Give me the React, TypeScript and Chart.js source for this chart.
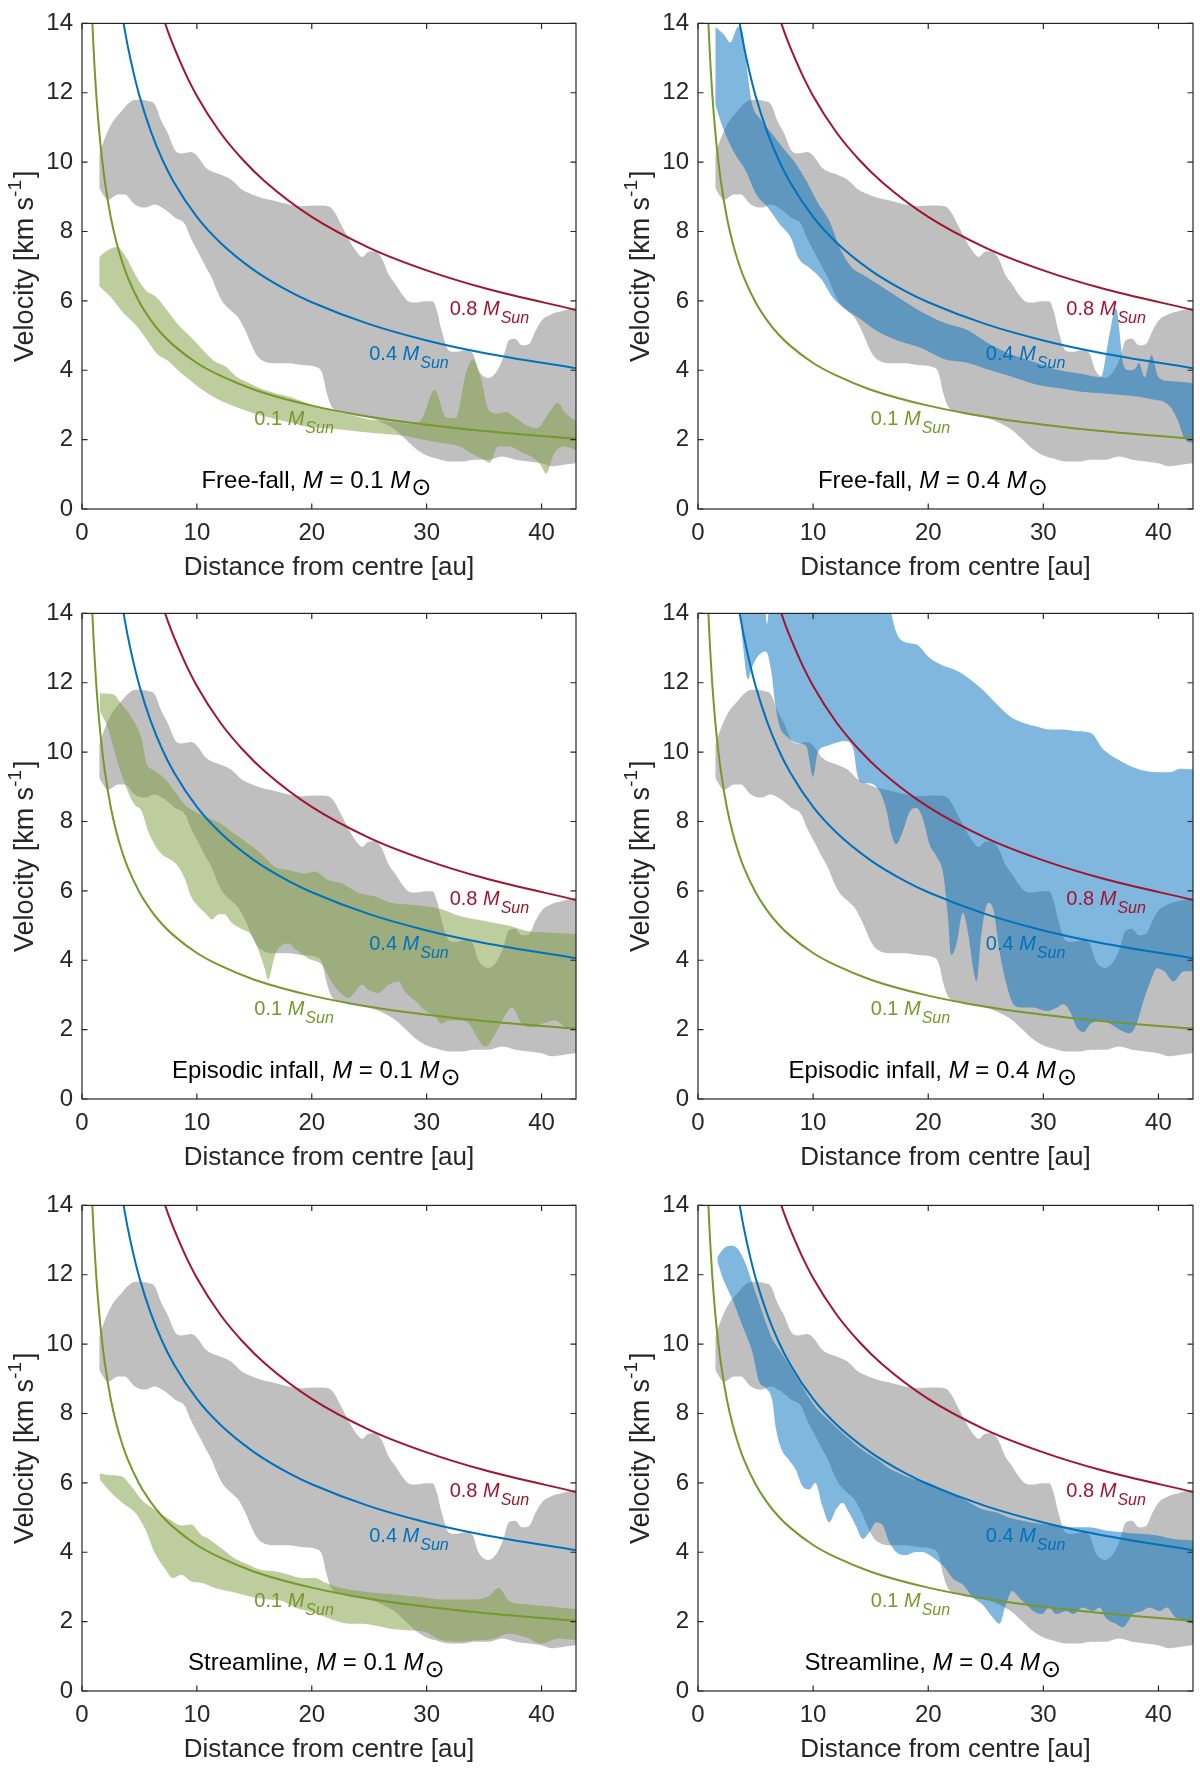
import { useEffect, useRef } from "react";
import { Chart, registerables } from "chart.js";

Chart.register(...registerables);

type Pt = [number, number];

// free-fall curves (r in au, v in km/s)
const curveR08 = [7.2, 7.6, 8, 9, 10, 12, 14, 16, 20, 25, 30, 35, 43];
const curveV08 = [14.04, 13.66, 13.32, 12.56, 11.91, 10.87, 10.07, 9.42, 8.42, 7.53, 6.88, 6.37, 5.74];
const curveR04 = [3.6, 3.8, 4, 4.5, 5, 6, 7, 8, 10, 12, 15, 18, 20, 25, 30, 35, 43];
const curveV04 = [14.04, 13.67, 13.32, 12.56, 11.91, 10.88, 10.07, 9.42, 8.42, 7.69, 6.88, 6.28, 5.96, 5.33, 4.86, 4.5, 4.06];
const curveR01 = [0.9, 0.95, 1, 1.1, 1.25, 1.5, 1.75, 2, 2.5, 3, 3.5, 4, 5, 6, 7, 8, 10, 12, 15, 20, 25, 30, 35, 43];
const curveV01 = [14.04, 13.67, 13.32, 12.7, 11.91, 10.88, 10.07, 9.42, 8.42, 7.69, 7.12, 6.66, 5.96, 5.44, 5.03, 4.71, 4.21, 3.85, 3.44, 2.98, 2.66, 2.43, 2.25, 2.03];

// observed range (same in every panel)
const grayUpper: Pt[] = [
  [1.5, 10.2], [1.7, 10.43], [2.56, 11.1], [3.43, 11.47], [4.3, 11.76], [4.9, 11.8], [5.76, 11.76], [6.34, 11.66],
  [6.9, 11.19], [7.5, 10.81], [8.1, 10.34], [8.66, 10.25], [9.5, 10.29], [10.1, 10.15], [10.7, 9.87], [11.3, 9.73],
  [12.15, 9.63], [13, 9.49], [13.9, 9.21], [14.8, 9.07], [15.6, 8.97], [16.8, 8.88], [18, 8.78], [19.1, 8.73],
  [20.3, 8.75], [21.45, 8.73], [22, 8.55], [22.6, 8.17], [23.2, 7.79], [23.8, 7.46], [24.4, 7.27], [24.9, 7.41],
  [25.5, 7.43], [26.1, 7.22], [26.7, 6.75], [27.3, 6.47], [27.85, 6.19], [28.4, 5.99], [29, 5.95], [29.9, 5.99],
  [30.5, 5.99], [30.9, 5.71], [31.3, 5.15], [31.9, 4.58], [32.5, 4.53], [33.4, 4.58], [34, 4.49], [34.5, 4.01],
  [35.4, 3.78], [36, 3.92], [36.6, 4.3], [37.15, 4.86], [37.7, 4.91], [38.3, 4.72], [38.9, 4.75], [39.5, 5.15],
  [40, 5.43], [40.9, 5.62], [41.8, 5.71], [43, 5.81],
];
const grayLower: Pt[] = [
  [1.5, 9.25], [2.27, 8.92], [3.14, 9.07], [3.7, 9.07], [4.6, 8.78], [5.5, 8.69], [6.3, 8.78], [7.2, 8.64],
  [8.1, 8.4], [8.95, 8.22], [9.5, 7.79], [10.1, 7.41], [10.7, 7.03], [11.3, 6.66], [11.9, 6.18], [12.4, 5.9],
  [13, 5.71], [13.6, 5.52], [14.2, 5.15], [15.1, 4.49], [15.6, 4.3], [16.8, 4.2], [18, 4.2], [19.1, 4.15],
  [20.3, 4.1], [20.9, 3.92], [21.3, 3.35], [21.7, 2.97], [22.6, 2.79], [23.8, 2.69], [24.9, 2.64], [26.1, 2.5],
  [27.3, 2.27], [28.1, 2.03], [29, 1.75], [29.9, 1.56], [30.8, 1.46], [31.9, 1.37], [33.1, 1.37], [34.2, 1.42],
  [35.4, 1.42], [36.6, 1.51], [37.7, 1.42], [38.9, 1.37], [40, 1.32], [40.9, 1.23], [41.8, 1.27], [43, 1.32],
];

// model ranges, one per panel
const ff01Upper: Pt[] = [
  [1.5, 7.26], [2.2, 7.45], [3.0, 7.55], [3.84, 7.26], [4.5, 6.84], [5.5, 6.32], [6.5, 6.1], [7.5, 5.69],
  [8.5, 5.27], [9.5, 4.95], [10.5, 4.59], [11.5, 4.27], [12.5, 4.11], [13.5, 3.8], [14.5, 3.64], [15.5, 3.48],
  [16.9, 3.33], [18.2, 3.22], [19.5, 3.06], [20.9, 2.91], [22.2, 2.8], [23.5, 2.7], [24.9, 2.59], [26.2, 2.54],
  [27.5, 2.49], [28.9, 2.45], [29.6, 2.6], [30.7, 3.43], [31.7, 2.64], [32.55, 2.62], [33.4, 3.9], [34.05, 4.32],
  [34.7, 3.8], [35.4, 2.85], [36.2, 2.75], [36.9, 2.8], [37.7, 2.64], [38.6, 2.43], [39.6, 2.33], [40.6, 2.75],
  [41.4, 3.06], [42.1, 2.75], [43, 2.54],
];
const ff01Lower: Pt[] = [
  [1.5, 6.42], [2.5, 6.11], [3.5, 5.69], [4.5, 5.37], [5.5, 4.95], [6.5, 4.48], [7.5, 4.27], [8.5, 3.96],
  [9.5, 3.69], [10.5, 3.43], [11.5, 3.22], [12.85, 3.01], [14.2, 2.85], [15.5, 2.7], [16.9, 2.59], [18.2, 2.49],
  [19.5, 2.38], [21.2, 2.33], [22.9, 2.28], [24.5, 2.22], [26.2, 2.17], [27.9, 2.12], [29.5, 2.01], [31.2, 1.91],
  [32.9, 1.8], [33.9, 1.6], [34.9, 1.44], [35.5, 1.33], [36.2, 1.8], [37.2, 1.8], [38.2, 1.65], [39.2, 1.49],
  [39.9, 1.28], [40.4, 1.02], [41.1, 1.6], [41.9, 1.8], [43, 1.7],
];
const ff04Upper: Pt[] = [
  [1.5, 13.9], [2.3, 13.66], [2.8, 13.45], [3.5, 13.9], [3.9, 13.7], [4.4, 12.3], [4.7, 11.67], [5.4, 11.25],
  [6.4, 10.83], [7.4, 10.4], [8.4, 10.0], [9.4, 9.47], [10.4, 8.83], [11.4, 8.31], [12.4, 7.47], [13.4, 6.95],
  [14.4, 6.74], [15.4, 6.53], [17.4, 6.1], [19.4, 5.69], [21.4, 5.37], [23.4, 5.16], [25.4, 4.74], [27.4, 4.43],
  [29.4, 4.22], [31.4, 4.0], [33.3, 3.9], [35, 3.8], [35.7, 4.95], [36.3, 5.79], [37, 4.11], [37.5, 4.0],
  [38, 4.05], [38.3, 4.22], [38.8, 3.8], [39.4, 4.43], [40, 3.8], [41, 3.69], [42.7, 3.64], [43, 3.62],
];
const ff04Lower: Pt[] = [
  [1.5, 11.67], [2.1, 11.04], [3.1, 10.3], [4.1, 9.78], [5.1, 9.05], [6.1, 8.68], [7.1, 8.21], [8.1, 7.8],
  [8.7, 7.25], [9.7, 6.95], [10.7, 6.63], [11.7, 6.1], [12.7, 5.79], [14.1, 5.48], [15.4, 5.16], [17.4, 4.85],
  [19.4, 4.64], [21.4, 4.32], [23.4, 4.22], [25.4, 4.0], [27.4, 3.8], [29.4, 3.59], [31.4, 3.48], [33.3, 3.38],
  [35.3, 3.33], [37.3, 3.27], [39.3, 3.17], [41, 2.96], [41.7, 2.54], [42.3, 2.01], [43, 1.9],
];
const ep01Upper: Pt[] = [
  [1.54, 11.69], [2.7, 11.67], [3.4, 11.4], [4.45, 10.93], [5.2, 10.37], [5.6, 9.7], [6.3, 9.47], [7.2, 9.24],
  [8.1, 8.86], [8.95, 8.48], [9.8, 8.29], [11, 8.1], [12.15, 7.92], [13.3, 7.63], [14.5, 7.35], [15.6, 7.07],
  [16.8, 6.69], [18, 6.6], [19.4, 6.5], [20.3, 6.55], [21.45, 6.31], [22.6, 6.22], [24.1, 5.94], [25.5, 5.84],
  [27, 5.65], [28.4, 5.61], [29.9, 5.56], [31.3, 5.47], [32.8, 5.28], [34.2, 5.18], [35.7, 5.09], [37.15, 5.0],
  [38.6, 4.85], [40, 4.81], [41.5, 4.78], [43, 4.76],
];
const ep01Lower: Pt[] = [
  [1.54, 11.2], [2.3, 10.65], [3.1, 9.7], [4, 8.86], [4.6, 8.48], [5.2, 8.29], [5.75, 7.73], [6.3, 7.35],
  [6.9, 7.07], [7.8, 6.88], [8.4, 6.69], [9, 6.31], [9.5, 5.84], [10.1, 5.56], [10.7, 5.37], [11.3, 5.18],
  [11.9, 5.33], [12.4, 5.33], [13, 5.09], [13.9, 4.9], [14.8, 4.71], [15.3, 4.34], [15.9, 3.77], [16.2, 3.44],
  [16.8, 4.15], [17.4, 4.43], [18, 4.48], [18.5, 4.34], [19.7, 4.05], [20.9, 3.86], [21.7, 3.39], [22.6, 3.02],
  [23.2, 2.92], [23.8, 3.11], [24.4, 3.3], [24.9, 3.15], [25.8, 3.06], [26.7, 3.3], [27.6, 3.39], [28.1, 3.11],
  [29, 2.83], [29.9, 2.54], [30.8, 2.36], [31.3, 2.17], [31.9, 2.26], [32.8, 2.26], [33.7, 2.17], [34.2, 1.89],
  [35.1, 1.51], [36, 1.89], [36.9, 2.45], [37.4, 2.64], [38.3, 2.17], [39.2, 2.07], [40, 2.17], [41.2, 2.26],
  [42.1, 2.07], [43, 1.98],
];
const ep04Upper: Pt[] = [
  [3.5, 14.6], [5.7, 14.6], [6.0, 13.7], [6.3, 14.6], [16.5, 14.6], [16.8, 14.0], [17.2, 13.48], [17.8, 13.2],
  [19, 13.1], [20.1, 12.72], [21.3, 12.49], [22.5, 12.35], [23.6, 12.11], [24.8, 11.78], [25.9, 11.4], [27.1, 11.03],
  [28.3, 10.84], [29.4, 10.74], [30.6, 10.65], [31.7, 10.65], [32.9, 10.6], [34.1, 10.56], [35.2, 10.08], [36.4, 9.8],
  [37.5, 9.61], [38.7, 9.47], [39.9, 9.42], [41, 9.42], [41.9, 9.52], [43, 9.5],
];
const ep04Lower: Pt[] = [
  [3.5, 14.6], [3.9, 13.1], [4.35, 12.1], [4.6, 12.35], [5.1, 12.72], [5.9, 12.9], [6.4, 12.25], [6.7, 11.4],
  [7.1, 10.74], [7.7, 10.46], [8.55, 10.27], [9.4, 10.18], [10.0, 9.3], [10.4, 9.99], [11.2, 10.18], [12, 10.27],
  [12.75, 10.32], [13.5, 10.08], [13.8, 9.42], [14.1, 9.14], [14.9, 9.1], [15.8, 8.86], [16.4, 8.29], [16.8, 7.63],
  [17.2, 7.35], [17.8, 7.73], [18.4, 8.29], [19, 8.39], [19.6, 8.01], [20.1, 7.35], [20.7, 7.0], [21.3, 6.5],
  [21.7, 5.3], [22, 4.15], [22.5, 4.52], [23, 5.37], [23.5, 4.71], [23.9, 3.77], [24.2, 3.39], [24.6, 4.71],
  [25.2, 5.65], [25.65, 5.47], [26.2, 4.24], [26.8, 3.3], [27.4, 2.73], [28, 2.64], [29.1, 2.64], [30.3, 2.54],
  [31.2, 2.64], [31.7, 2.73], [32.3, 2.54], [32.9, 2.07], [33.5, 1.93], [34.1, 2.17], [34.9, 2.26], [35.8, 2.17],
  [36.7, 1.98], [37.5, 1.89], [38.1, 2.17], [38.7, 2.83], [39.3, 3.39], [39.9, 3.77], [40.5, 3.68], [41.3, 3.39],
  [42.2, 3.68], [43, 3.68],
];
const st01Upper: Pt[] = [
  [1.54, 6.28], [2.27, 6.23], [3.43, 6.19], [4.3, 5.9], [5.17, 5.52], [6.05, 5.29], [6.9, 5.1], [7.8, 4.91],
  [8.66, 4.77], [9.5, 4.8], [10.4, 4.49], [11, 4.39], [12.15, 4.11], [13.3, 3.82], [14.5, 3.64], [15.6, 3.49],
  [16.8, 3.45], [18, 3.35], [19.1, 3.26], [20.3, 3.26], [21.2, 3.12], [22.6, 2.97], [24.1, 2.88], [25.5, 2.83],
  [27, 2.79], [28.4, 2.74], [29.9, 2.69], [31.3, 2.64], [32.8, 2.64], [34.2, 2.64], [35.4, 2.74], [36.3, 2.97],
  [37.15, 2.6], [38.6, 2.5], [40, 2.46], [41.5, 2.41], [43, 2.36],
];
const st01Lower: Pt[] = [
  [1.54, 6.09], [2.56, 5.71], [3.7, 5.38], [4.6, 5.15], [5.5, 4.67], [6.3, 4.01], [7.2, 3.54], [7.9, 3.26],
  [8.66, 3.35], [9.5, 3.16], [10.4, 3.12], [11.6, 2.97], [12.7, 2.88], [13.9, 2.79], [15.1, 2.69], [16.2, 2.64],
  [17.4, 2.6], [18.5, 2.41], [19.7, 2.31], [20.9, 2.17], [22, 2.03], [23.2, 1.94], [24.4, 1.94], [25.5, 1.89],
  [27, 1.79], [28.4, 1.75], [29.9, 1.7], [31.3, 1.46], [32.8, 1.42], [34.2, 1.46], [35.7, 1.5], [37.15, 1.65],
  [38.6, 1.56], [40, 1.37], [41.5, 1.51], [43, 1.46],
];
const st04Upper: Pt[] = [
  [1.68, 12.51], [2.4, 12.8], [3, 12.84], [3.56, 12.7], [4.14, 12.32], [4.72, 11.76], [5.3, 11.19], [5.9, 10.62],
  [6.46, 10.15], [7, 9.87], [7.9, 9.4], [8.8, 8.92], [9.65, 8.45], [10.5, 8.07], [11.4, 7.79], [12.3, 7.51],
  [13.1, 7.27], [14.3, 6.94], [15.45, 6.7], [16.6, 6.42], [17.8, 6.23], [18.9, 6.09], [20.1, 6.0], [21.2, 5.81],
  [22.4, 5.62], [23.6, 5.43], [24.7, 5.24], [25.9, 5.15], [27, 5.0], [28.2, 4.91], [29.7, 4.82], [31.1, 4.77],
  [32.6, 4.72], [34, 4.72], [35.4, 4.63], [36.9, 4.58], [38.3, 4.53], [39.8, 4.49], [41.2, 4.39], [43, 4.34],
];
const st04Lower: Pt[] = [
  [1.68, 12.4], [2.1, 11.95], [3, 11.28], [3.86, 10.53], [4.72, 9.77], [5.3, 8.92], [5.9, 8.73], [6.46, 8.36],
  [6.75, 7.6], [7.3, 6.94], [7.9, 6.66], [8.5, 6.37], [9.07, 5.9], [9.65, 5.81], [10.2, 6.0], [10.8, 5.34],
  [11.4, 4.86], [12, 5.24], [12.55, 5.43], [13.1, 5.15], [13.7, 4.77], [14.3, 4.39], [14.9, 4.58], [15.45, 4.86],
  [16, 4.8], [16.6, 4.3], [17.2, 4.01], [18.06, 3.92], [18.9, 4.01], [19.5, 4.01], [20.1, 3.92], [20.7, 3.78],
  [21.5, 3.54], [22.1, 3.26], [23, 3.07], [23.9, 2.69], [24.7, 2.5], [25.6, 2.12], [26.2, 1.94], [26.75, 2.5],
  [27.3, 2.88], [27.9, 2.69], [28.5, 2.5], [29.1, 2.31], [29.9, 2.22], [30.5, 2.41], [31.1, 2.22], [32, 2.31],
  [32.6, 2.22], [33.4, 2.41], [34.3, 2.31], [34.9, 2.41], [35.4, 2.12], [36.3, 1.94], [36.9, 1.84], [37.8, 2.22],
  [38.6, 2.31], [39.2, 2.41], [40.1, 2.31], [40.7, 2.41], [41.5, 2.12], [42.1, 2.03], [43, 1.94],
];

const panelTitles = ["Free-fall", "Free-fall", "Episodic infall", "Episodic infall", "Streamline", "Streamline"];
const panelMass = ["0.1", "0.4", "0.1", "0.4", "0.1", "0.4"];
const bandUppers = [ff01Upper, ff04Upper, ep01Upper, ep04Upper, st01Upper, st04Upper];
const bandLowers = [ff01Lower, ff04Lower, ep01Lower, ep04Lower, st01Lower, st04Lower];

const curveLabels = ["0.8", "0.4", "0.1"];
const curveLabelR = [32.0, 25.0, 15.0];
const curveLabelV = [5.6, 4.29, 2.42];

const TEXT = "#262626";
const FONT = "'Liberation Sans', Arial, Helvetica, sans-serif";
const RED = "rgb(162,20,47)";
const BLUE = "rgb(0,114,189)";
const GREEN = "rgb(119,152,42)";
const GRAY_FILL = "rgba(128,128,128,0.5)";
const GREEN_FILL = "rgba(124,156,60,0.5)";
const BLUE_FILL = "rgba(0,112,189,0.5)";
const TICK = 5.5;

type Run = { t: string; size: number; italic?: boolean; dy?: number; family?: string; gap?: number };

const fontOf = (r: Run) => `${r.italic ? "italic " : ""}${r.size}px ${r.family ?? FONT}`;

function drawRuns(ctx: CanvasRenderingContext2D, x: number, y: number, runs: Run[], align: "left" | "center") {
  let w = 0;
  for (const r of runs) {
    ctx.font = fontOf(r);
    w += ctx.measureText(r.t).width + (r.gap ?? 0);
  }
  let cx = align === "center" ? x - w / 2 : x;
  ctx.textAlign = "left";
  ctx.textBaseline = "alphabetic";
  for (const r of runs) {
    ctx.font = fontOf(r);
    ctx.fillText(r.t, cx, y + (r.dy ?? 0));
    cx += ctx.measureText(r.t).width + (r.gap ?? 0);
  }
}

const toXY = (pts: Pt[]) => pts.map(([x, y]) => ({ x, y }));
const zipXY = (xs: number[], ys: number[]) => xs.map((x, i) => ({ x, y: ys[i] }));

function Panel({ i }: { i: number }) {
  const canvasRef = useRef<HTMLCanvasElement | null>(null);
  const chartRef = useRef<Chart | null>(null);

  const col = i % 2;
  const row = Math.floor(i / 2);
  const left = col === 0 ? 0 : 600;
  const top = [0, 590, 1182][row];
  const h = row === 2 ? 586 : 590;
  const yWidth = col === 0 ? 82 : 98;
  const padRight = col === 0 ? 24 : 7;
  const xHeight = h - 15 - 494;

  useEffect(() => {
    if (!canvasRef.current) return;
    if (chartRef.current) chartRef.current.destroy();

    const isLow = panelMass[i] === "0.1";
    const lineColors = [RED, BLUE, GREEN];

    const decor = {
      id: "decor",
      afterDatasetsDraw(chart: Chart) {
        const { ctx } = chart;
        const x = chart.scales.x;
        const y = chart.scales.y;
        ctx.save();
        curveLabels.forEach((m, k) => {
          ctx.fillStyle = lineColors[k];
          drawRuns(ctx, x.getPixelForValue(curveLabelR[k]), y.getPixelForValue(curveLabelV[k]), [
            { t: m + " ", size: 20 },
            { t: "M", size: 20, italic: true, gap: 1 },
            { t: "Sun", size: 16, italic: true, dy: 8 },
          ], "left");
        });
        ctx.fillStyle = "#000";
        drawRuns(ctx, x.getPixelForValue(20.4), y.getPixelForValue(0.6), [
          { t: panelTitles[i] + ", ", size: 24 },
          { t: "M", size: 24, italic: true },
          { t: " = " + panelMass[i] + " ", size: 24 },
          { t: "M", size: 24, italic: true, gap: 1 },
          { t: "\u2299", size: 24, dy: 7, family: "'DejaVu Sans', sans-serif" },
        ], "center");
        ctx.restore();
      },
      afterDraw(chart: Chart) {
        const { ctx, chartArea: a } = chart;
        const x = chart.scales.x;
        const y = chart.scales.y;
        ctx.save();
        ctx.strokeStyle = TEXT;
        ctx.lineWidth = 1.2;
        ctx.strokeRect(a.left, a.top, a.right - a.left, a.bottom - a.top);
        ctx.beginPath();
        x.ticks.forEach((t) => {
          const px = x.getPixelForValue(t.value);
          ctx.moveTo(px, a.bottom);
          ctx.lineTo(px, a.bottom - TICK);
          ctx.moveTo(px, a.top);
          ctx.lineTo(px, a.top + TICK);
        });
        y.ticks.forEach((t) => {
          const py = y.getPixelForValue(t.value);
          ctx.moveTo(a.left, py);
          ctx.lineTo(a.left + TICK, py);
          ctx.moveTo(a.right, py);
          ctx.lineTo(a.right - TICK, py);
        });
        ctx.stroke();

        ctx.fillStyle = TEXT;
        drawRuns(ctx, (a.left + a.right) / 2, a.bottom + 66, [{ t: "Distance from centre [au]", size: 26 }], "center");
        ctx.translate(a.left - 49, (a.top + a.bottom) / 2);
        ctx.rotate(-Math.PI / 2);
        drawRuns(ctx, 0, 0, [
          { t: "Velocity [km s", size: 27 },
          { t: "-1", size: 19, dy: -12, gap: 2 },
          { t: "]", size: 27 },
        ], "center");
        ctx.restore();
      },
    };

    const curve = (xs: number[], ys: number[], color: string) => ({
      data: zipXY(xs, ys),
      borderColor: color,
      borderWidth: 2,
      pointRadius: 0,
      fill: false,
      order: 0,
      cubicInterpolationMode: "monotone" as const,
    });
    const edge = (pts: Pt[], bg: string, fill: string | boolean, order: number) => ({
      data: toXY(pts),
      borderColor: "rgba(0,0,0,0)",
      backgroundColor: bg,
      borderWidth: 1,
      pointRadius: 0,
      fill,
      order,
      cubicInterpolationMode: "monotone" as const,
    });

    chartRef.current = new Chart(canvasRef.current, {
      type: "line",
      data: {
        datasets: [
          curve(curveR08, curveV08, RED),
          curve(curveR04, curveV04, BLUE),
          curve(curveR01, curveV01, GREEN),
          edge(bandUppers[i], isLow ? GREEN_FILL : BLUE_FILL, "+1", 5),
          edge(bandLowers[i], "rgba(0,0,0,0)", false, 5),
          edge(grayUpper, GRAY_FILL, "+1", 10),
          edge(grayLower, "rgba(0,0,0,0)", false, 10),
        ] as any,
      },
      options: {
        animation: false,
        responsive: false,
        layout: { padding: { left: 0, right: padRight, top: 15, bottom: 0 } },
        plugins: {
          legend: { display: false },
          tooltip: { enabled: false },
          title: { display: false },
        },
        scales: {
          x: {
            type: "linear",
            min: 0,
            max: 43,
            afterFit: (s: any) => {
              s.height = xHeight;
            },
            grid: { display: false, drawTicks: false },
            border: { display: false },
            ticks: {
              stepSize: 10,
              includeBounds: false,
              maxRotation: 0,
              padding: 10,
              color: TEXT,
              font: { family: FONT, size: 24 },
            },
          },
          y: {
            type: "linear",
            min: 0,
            max: 14,
            afterFit: (s: any) => {
              s.width = yWidth;
            },
            grid: { display: false, drawTicks: false },
            border: { display: false },
            ticks: {
              stepSize: 2,
              padding: 9,
              color: TEXT,
              font: { family: FONT, size: 24 },
            },
          },
        },
      },
      plugins: [decor],
    });

    return () => {
      if (chartRef.current) {
        chartRef.current.destroy();
        chartRef.current = null;
      }
    };
  }, [i]);

  return (
    <canvas
      ref={canvasRef}
      width={600}
      height={h}
      style={{ position: "absolute", left, top, width: 600, height: h }}
    />
  );
}

const App = () => {
  return (
    <div
      style={{
        position: "absolute",
        left: 0,
        top: 0,
        width: 1200,
        height: 1768,
        background: "#fff",
        overflow: "hidden",
      }}
    >
      {[0, 1, 2, 3, 4, 5].map((i) => (
        <Panel key={i} i={i} />
      ))}
    </div>
  );
};

export default App;
